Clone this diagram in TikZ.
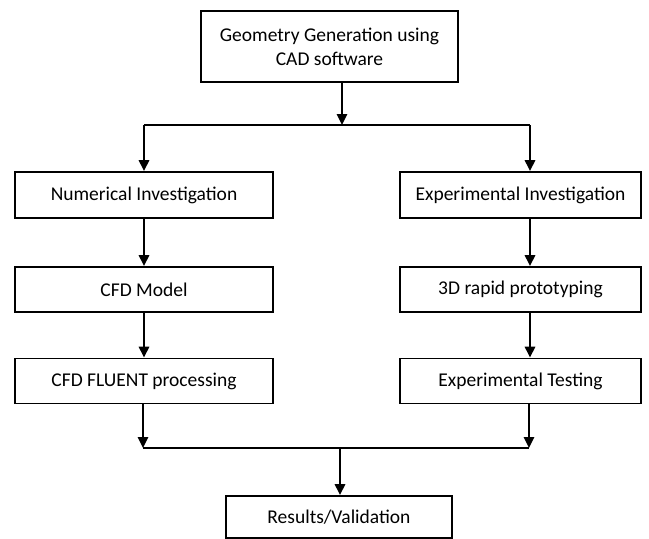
\documentclass[tikz,border=0pt]{standalone}
\usepackage{fontspec}
\setmainfont{Carlito}
\usetikzlibrary{arrows.meta,calc}
\begin{document}
\begin{tikzpicture}[x=1pt,y=-1pt,
  box/.style={draw=black,line width=1.6pt,inner sep=0pt,align=center,font=\fontsize{19.5}{24}\selectfont},
  arr/.style={line width=2.6pt,-{Triangle[length=11pt,width=10pt]}},
  ln/.style={line width=2.6pt}]
\useasboundingbox (0,0) rectangle (649,539);
\node[box,minimum width=257pt,minimum height=71pt] (top) at (329.5,46.5) {Geometry Generation using\\CAD software};
\node[box,minimum width=258pt,minimum height=46pt] (num) at (144,195) {Numerical Investigation};
\node[box,minimum width=258pt,minimum height=45pt] (cfd) at (144,289.5) {CFD Model};
\node[box,minimum width=258pt,minimum height=45pt] (flu) at (144,381) {CFD FLUENT processing};
\node[box,minimum width=241pt,minimum height=46pt] (exp) at (520.5,195) {Experimental Investigation};
\node[box,minimum width=241pt,minimum height=45pt] (pro) at (520.5,289.5) {3D rapid prototyping};
\node[box,minimum width=241pt,minimum height=45pt] (tst) at (520.5,381) {Experimental Testing};
\node[box,minimum width=226pt,minimum height=42pt] (res) at (339,517) {Results/Validation};
\coordinate (jT) at (342,125);
\coordinate (jL) at (144,125);
\coordinate (jR) at (530,125);
\coordinate (kL) at (143,448);
\coordinate (kR) at (529,448);
\coordinate (kM) at (340,448);
\draw[arr] (top.south -| jT) -- (jT);
\draw[ln] (jL) -- (jR);
\draw[arr] (jL) -- (jL |- num.north);
\draw[arr] (jR) -- (jR |- exp.north);
\draw[arr] (num.south -| jL) -- (cfd.north -| jL);
\draw[arr] (cfd.south -| jL) -- (flu.north -| jL);
\draw[arr] (exp.south -| jR) -- (pro.north -| jR);
\draw[arr] (pro.south -| jR) -- (tst.north -| jR);
\draw[arr] (flu.south -| kL) -- (kL);
\draw[arr] (tst.south -| kR) -- (kR);
\draw[ln] (kL) -- (kR);
\draw[arr] (kM) -- (res.north -| kM);
\end{tikzpicture}
\end{document}
